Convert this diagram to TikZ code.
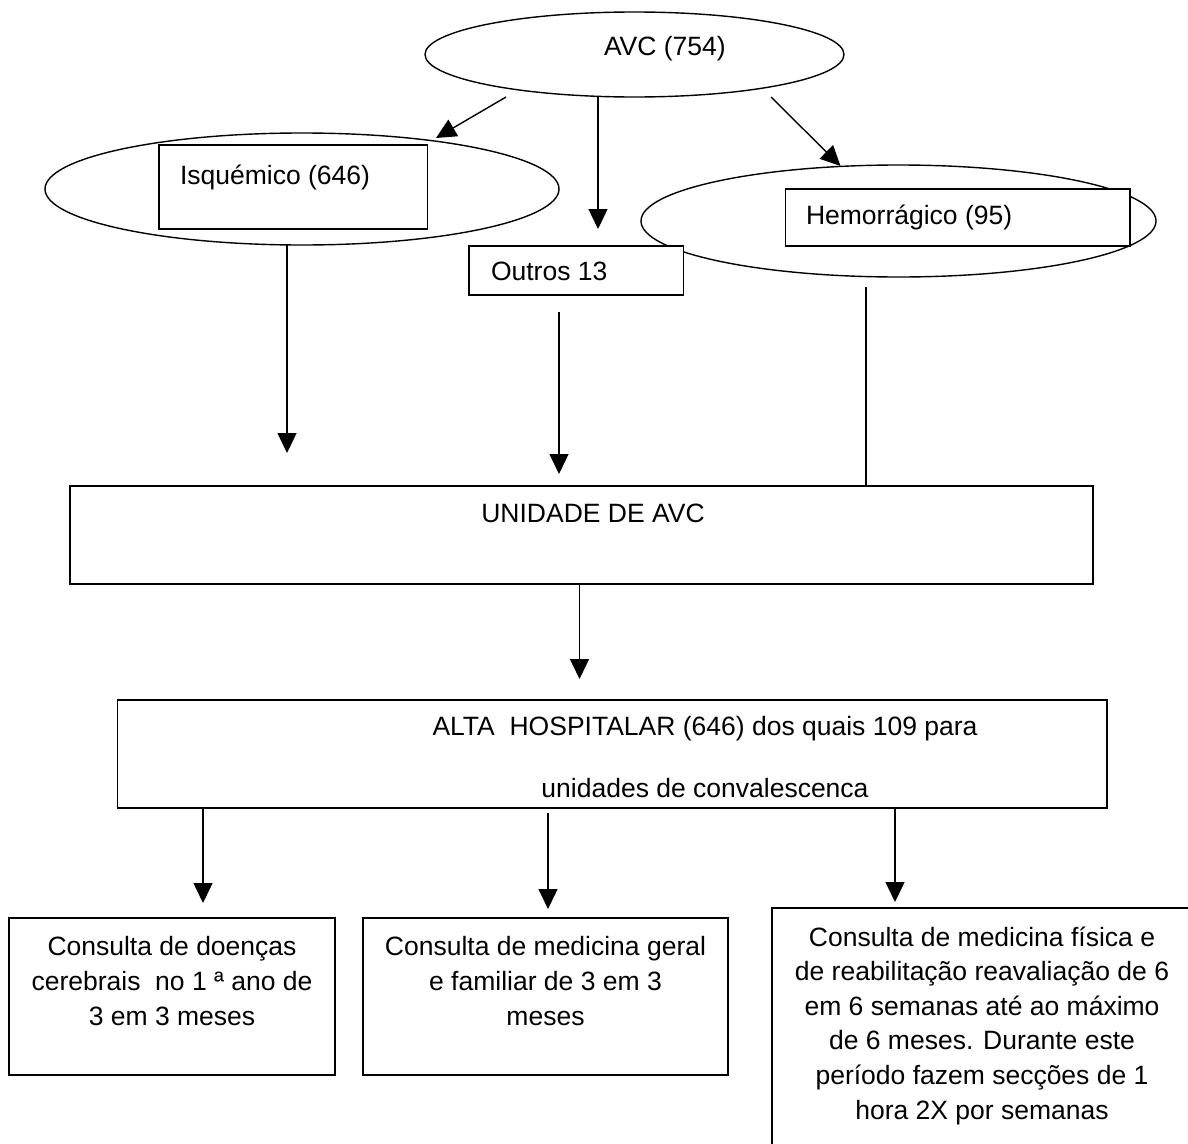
\documentclass[tikz,border=0pt]{standalone}
\usepackage{fontspec}
\setmainfont{Liberation Sans}
\usetikzlibrary{shapes.geometric,arrows.meta}
\begin{document}
\begin{tikzpicture}[x=1pt,y=-1pt,
  every node/.style={inner sep=0pt, outer sep=0pt},
  ln/.style={line width=1.4pt},
  arr/.style={ln,-{Triangle[length=20pt,width=19pt]}},
  oval/.style={ellipse, draw, ln, fill=white},
  boxn/.style={rectangle, draw, ln, fill=white},
  txt/.style={font=\fontsize{26.5}{35}\selectfont, text=black},
  txtb/.style={font=\fontsize{26.5}{34.6}\selectfont, text=black}
]
\useasboundingbox (0,0) rectangle (1188,1143);
\clip (0,0) rectangle (1188,1143);
\fill[white] (0,0) rectangle (1188,1143);

% top ellipses and boxes
\node[oval, minimum width=419pt, minimum height=85pt] (avc) at (634.5,54.5) {};
\node[oval, minimum width=514pt, minimum height=112pt] (isq) at (302,189) {};
\node[boxn, minimum width=268.5pt, minimum height=84pt] (isqbox) at (293.25,187) {};
\node[oval, minimum width=515pt, minimum height=112pt] (hem) at (898.5,221) {};
\node[boxn, minimum width=344.5pt, minimum height=57pt] (hembox) at (957.75,217.5) {};
\node[boxn, minimum width=214.5pt, minimum height=49pt] (out) at (576.25,270.5) {};

% lower boxes
\node[boxn, minimum width=1023pt, minimum height=98pt] (uni) at (581.5,535) {};
\node[boxn, minimum width=989.5pt, minimum height=108pt] (alta) at (612.25,754) {};
\node[boxn, minimum width=326pt, minimum height=157pt] (b1) at (172,996.5) {};
\node[boxn, minimum width=365pt, minimum height=157pt] (b2) at (545.5,996.5) {};
\node[boxn, minimum width=420pt, minimum height=262pt] (b3) at (982,1039) {};

% texts
\node[txt, anchor=base west] (tavc) at (604,55) {AVC (754)};
\node[txt, anchor=base west] (tisq) at (180,184) {Isquémico (646)};
\node[txt, anchor=base west] (them) at (806,224) {Hemorrágico (95)};
\node[txt, anchor=base west] (tout) at (491,280.5) {Outros 13};
\node[txt, anchor=base] (tuni) at (593,522) {UNIDADE DE AVC};
\node[txt, anchor=north, align=center] (talta) at (705,710.5)
  {\strut ALTA~ HOSPITALAR (646) dos quais 109 para\\[27pt]unidades de convalescenca};
\node[txt, anchor=north, align=center] (t1) at (172,930.5)
  {\strut Consulta de doenças\\cerebrais~ no 1 ª ano de\\3 em 3 meses};
\node[txt, anchor=north, align=center] (t2) at (545.5,930.5)
  {\strut Consulta de medicina geral\\e familiar de 3 em 3\\meses};
\node[txtb, anchor=north, align=center] (t3) at (982,921.8)
  {\strut Consulta de medicina física e\\de reabilitação reavaliação de 6\\em 6 semanas até ao máximo\\de 6 meses. Durante este\\período fazem secções de 1\\hora 2X por semanas};

% connector end points
\coordinate (a1) at (506,97);   \coordinate (a1t) at (436,138);
\coordinate (a2) at (598,97);   \coordinate (a2t) at (598,229);
\coordinate (a3) at (771,97);   \coordinate (a3t) at (840.5,166);
\coordinate (i1) at (287,244.5); \coordinate (i1t) at (287,453);
\coordinate (o1) at (559,312);  \coordinate (o1t) at (559,474);
\coordinate (h1) at (866,287);
\coordinate (u1t) at (579.5,679);
\coordinate (c1t) at (203,903);
\coordinate (c2) at (548,813);  \coordinate (c2t) at (548,909);
\coordinate (c3t) at (895,902);

% connectors
\draw[arr] (a1) -- (a1t);
\draw[arr] (a2) -- (a2t);
\draw[arr] (a3) -- (a3t);
\draw[arr] (i1) -- (i1t);
\draw[arr] (o1) -- (o1t);
\draw[ln] (h1) -- (h1 |- uni.north);
\draw[arr] (u1t |- uni.south) -- (u1t);
\draw[arr] (c1t |- alta.south) -- (c1t);
\draw[arr] (c2) -- (c2t);
\draw[arr] (c3t |- alta.south) -- (c3t);
\end{tikzpicture}
\end{document}
